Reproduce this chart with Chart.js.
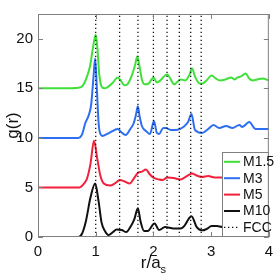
<!DOCTYPE html>
<html><head><meta charset="utf-8">
<script src="https://cdn.jsdelivr.net/npm/chart.js@4/dist/chart.umd.min.js"></script>
<style>html,body{margin:0;padding:0;background:#fff}canvas{display:block}</style>
</head><body><canvas id="c" width="279" height="278"></canvas>
<script>
const xTicks = [0, 1, 2, 3, 4];
const yTicks = [0, 5, 10, 15, 20];
const fccX = [1, 1.414, 1.732, 2, 2.236, 2.449, 2.646, 2.828];
const labels = ['M1.5', 'M3', 'M5', 'M10', 'FCC'];

const m15X = [0,0.5,0.7,0.78,0.85,0.9,0.95,1.0,1.03,1.06,1.1,1.15,1.2,1.3,1.38,1.42,1.5,1.55,1.62,1.68,1.72,1.76,1.8,1.85,1.92,2.0,2.06,2.12,2.2,2.24,2.3,2.36,2.47,2.55,2.62,2.67,2.72,2.8,2.85,2.92,3.01,3.08,3.15,3.25,3.35,3.4,3.46,3.52,3.6,3.66,3.72,3.8,3.89,4.0];
const m15Y = [15,15,15.05,15.3,16.2,17.2,19,20.4,19,16.5,15.2,15.0,15.1,15.6,16.1,15.9,15.3,15.4,16.2,17.3,18.2,17.2,15.9,15.4,15.5,16.1,15.6,15.8,16.3,16.4,15.9,15.4,15.9,15.8,16.3,17.0,16.2,15.5,15.5,15.8,16.3,16.0,15.8,15.9,16.1,15.9,16.1,16.2,16.5,16.0,15.8,15.9,16.0,15.8];

const m3X = [0,0.7,0.76,0.82,0.88,0.92,0.96,0.99,1.02,1.05,1.08,1.12,1.2,1.3,1.38,1.44,1.52,1.6,1.66,1.7,1.73,1.76,1.8,1.87,1.94,2.01,2.06,2.1,2.17,2.22,2.3,2.4,2.52,2.6,2.66,2.72,2.84,2.95,3.04,3.14,3.26,3.37,3.49,3.54,3.66,3.77,3.9,4.0];
const m3Y = [10,10,10.3,11.5,12.3,13.3,16,18.0,15,11.5,10.4,10.2,10.4,10.7,10.9,10.6,10.3,10.9,11.5,12.4,13.2,12.2,11.2,10.7,10.4,11.7,10.5,10.4,11.0,11.0,10.8,10.8,11.1,11.6,12.4,10.8,10.5,10.9,11.3,11.0,11.2,11.0,11.3,11.1,11.6,10.9,10.9,10.9];

const m5X = [0,0.72,0.8,0.85,0.91,0.97,1.03,1.08,1.14,1.25,1.33,1.42,1.5,1.59,1.66,1.73,1.8,1.87,1.94,2.0,2.1,2.16,2.24,2.35,2.47,2.58,2.67,2.75,2.84,2.95,3.06,3.2,3.4,3.6,3.8,4.0];
const m5Y = [5,5,5.4,5.9,7.4,9.7,7.8,6.2,5.4,5.2,5.4,5.75,5.6,5.4,5.9,6.45,6.6,6.8,6.3,6.0,5.8,5.75,6.0,5.95,5.8,6.15,6.4,6.2,6.05,6.15,6.0,6.0,6.1,6.0,6.0,6.0];

const m10X = [0,0.7,0.76,0.83,0.91,0.99,1.05,1.1,1.16,1.22,1.3,1.36,1.45,1.53,1.6,1.67,1.73,1.78,1.84,1.9,2.02,2.1,2.2,2.35,2.47,2.54,2.62,2.66,2.75,2.85,2.92,3.01,3.1,3.2,3.4,3.6,3.8,4.0];
const m10Y = [0,0,0.3,1.6,4.0,5.4,3.6,1.5,0.6,0.2,0.5,0.75,0.7,0.5,1.0,1.8,2.9,1.5,0.6,0.6,1.35,0.7,1.0,0.85,0.85,1.15,1.9,2.1,1.0,0.67,0.8,1.1,1.1,1.0,1.05,1.0,1.0,1.0];

const colors = ['#3fe03a', '#2d6ff0', '#f2203a', '#111111', '#111111'];
const Y_MAX = 22.5;
const FONT = '"Liberation Sans", Arial, sans-serif';

function pts(xs, ys) { return xs.map((x, i) => ({x: x, y: ys[i]})); }
function fccPts() {
  const out = [];
  fccX.forEach(x => { out.push({x: x, y: 0}); out.push({x: x, y: Y_MAX}); out.push({x: x, y: null}); });
  return out;
}
function series(label, data, color) {
  return {label: label, data: data, borderColor: color, backgroundColor: color, borderWidth: 2,
    pointRadius: 0, fill: false, cubicInterpolationMode: 'monotone', tension: 0.4};
}

const frame = {
  id: 'frame',
  afterDraw(chart) {
    const ctx = chart.ctx, a = chart.chartArea;
    const xs = chart.scales.x, ys = chart.scales.y;
    ctx.save();
    ctx.strokeStyle = '#808080'; ctx.lineWidth = 1;
    ctx.strokeRect(a.left + 0.5, a.top + 0.5, a.right - a.left - 1, a.bottom - a.top - 1);
    const tl = 5;
    ctx.beginPath();
    xTicks.forEach(v => {
      const p = Math.round(xs.getPixelForValue(v)) + 0.5;
      ctx.moveTo(p, a.bottom); ctx.lineTo(p, a.bottom - tl);
      ctx.moveTo(p, a.top); ctx.lineTo(p, a.top + tl);
    });
    yTicks.forEach(v => {
      const p = Math.round(ys.getPixelForValue(v)) + 0.5;
      ctx.moveTo(a.left, p); ctx.lineTo(a.left + tl, p);
      ctx.moveTo(a.right, p); ctx.lineTo(a.right - tl, p);
    });
    ctx.stroke();

    const lx = 222.5, ly = 152.5, lw = a.right - 223, lh = a.bottom - 153;
    ctx.fillStyle = '#fff';
    ctx.fillRect(lx, ly, lw, lh);
    ctx.strokeRect(lx, ly, lw, lh);
    ctx.font = '14px ' + FONT;
    ctx.textBaseline = 'middle'; ctx.textAlign = 'left';
    chart.data.datasets.forEach((d, i) => {
      const y = 161.8 + i * 16.4;
      ctx.strokeStyle = d.borderColor; ctx.lineWidth = d.borderDash ? 1.4 : 2;
      ctx.setLineDash(d.borderDash || []);
      ctx.beginPath(); ctx.moveTo(224, y); ctx.lineTo(240, y); ctx.stroke();
      ctx.setLineDash([]);
      ctx.fillStyle = '#111';
      ctx.fillText(d.label, 243, y + 0.5);
    });

    ctx.fillStyle = '#111';
    ctx.font = '17px ' + FONT;
    ctx.textAlign = 'center'; ctx.textBaseline = 'alphabetic';
    ctx.save();
    ctx.translate(18, (a.top + a.bottom) / 2);
    ctx.rotate(-Math.PI / 2);
    ctx.fillText('g(r)', 0, 0);
    ctx.restore();
    const main = 'r/a', sub = 's';
    ctx.font = '17px ' + FONT;
    const mw = ctx.measureText(main).width;
    ctx.font = '11px ' + FONT;
    const sw = ctx.measureText(sub).width;
    const cx = xs.getPixelForValue(2);
    const x0 = cx - (mw + sw) / 2;
    ctx.textAlign = 'left';
    ctx.font = '17px ' + FONT;
    ctx.fillText(main, x0, 268);
    ctx.font = '11px ' + FONT;
    ctx.fillText(sub, x0 + mw, 273);
    ctx.restore();
  }
};

new Chart(document.getElementById('c'), {
  type: 'line',
  data: {
    datasets: [
      series(labels[0], pts(m15X, m15Y), colors[0]),
      series(labels[1], pts(m3X, m3Y), colors[1]),
      series(labels[2], pts(m5X, m5Y), colors[2]),
      series(labels[3], pts(m10X, m10Y), colors[3]),
      {label: labels[4], data: fccPts(), borderColor: colors[4], borderWidth: 1.3, borderDash: [1.3, 2.7],
       pointRadius: 0, spanGaps: false, tension: 0, order: -1}
    ]
  },
  options: {
    responsive: false, animation: false, devicePixelRatio: 1,
    layout: {padding: {left: 0, right: 5, top: 1, bottom: 0}},
    plugins: {legend: {display: false}, tooltip: {enabled: false}},
    scales: {
      x: {type: 'linear', min: 0, max: 4,
          afterFit(s) { s.height = 41; },
          afterBuildTicks(s) { s.ticks = xTicks.map(v => ({value: v})); },
          grid: {display: false, drawTicks: false}, border: {display: false},
          ticks: {color: '#111', padding: 6, maxRotation: 0, font: {size: 15, family: FONT}}},
      y: {type: 'linear', min: 0, max: Y_MAX,
          afterFit(s) { s.width = 38; },
          afterBuildTicks(s) { s.ticks = yTicks.map(v => ({value: v})); },
          grid: {display: false, drawTicks: false}, border: {display: false},
          ticks: {color: '#111', padding: 5, font: {size: 15, family: FONT}}}
    }
  },
  plugins: [frame]
});
</script>
</body></html>
